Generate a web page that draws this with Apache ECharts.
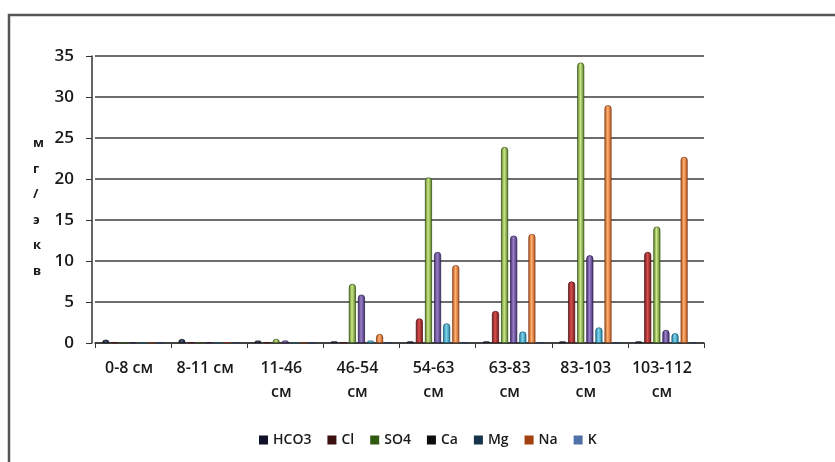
<!DOCTYPE html>
<html>
<head>
<meta charset="utf-8">
<script src="https://cdn.jsdelivr.net/npm/echarts@6/dist/echarts.min.js"></script>
<style>
html,body{margin:0;padding:0;background:#fff;}
#chart{width:835px;height:462px;}
</style>
</head>
<body>
<div id="chart"></div>
<script>
const categories = ['0-8 см', '8-11 см', '11-46\nсм', '46-54\nсм', '54-63\nсм', '63-83\nсм', '83-103\nсм', '103-112\nсм'];
const seriesNames = ['HCO3', 'Cl', 'SO4', 'Ca', 'Mg', 'Na', 'K'];
const HCO3 = [0.4, 0.5, 0.3, 0.2, 0.2, 0.2, 0.2, 0.2];
const Cl   = [0.1, 0.1, 0.1, 0.1, 3.0, 3.9, 7.5, 11.1];
const SO4  = [0.1, 0.1, 0.5, 7.2, 20.2, 23.9, 34.2, 14.2];
const Ca   = [0.1, 0.1, 0.3, 5.9, 11.1, 13.1, 10.7, 1.6];
const Mg   = [0.1, 0.1, 0.1, 0.3, 2.4, 1.4, 1.9, 1.2];
const Na   = [0.1, 0.1, 0.1, 1.1, 9.5, 13.3, 29.0, 22.7];
const K    = [0.1, 0.1, 0.1, 0.1, 0.1, 0.1, 0.1, 0.1];
const yTicks = [0, 5, 10, 15, 20, 25, 30, 35];
const yTitle = ['м', 'г', '/', 'э', 'к', 'в'];

const values = [HCO3, Cl, SO4, Ca, Mg, Na, K];
// bar cylinder colours [edge, centre, border]
const barColors = [
  ['#10162a', '#4a5878', '#0a0e1a'],
  ['#6e1414', '#d65050', '#4a0c0c'],
  ['#4f7a1c', '#cde68a', '#2e4a0e'],
  ['#3f2a6a', '#9a80c8', '#281a48'],
  ['#1e7a98', '#7ed4ee', '#125066'],
  ['#b0501a', '#ffb070', '#7a3410'],
  ['#35507e', '#8aa6d4', '#223456']
];
const legendColors = ['#0e1128', '#3a0f0f', '#2f5a10', '#0c0c0c', '#15344a', '#a3400f', '#5070a8'];

const chart = echarts.init(document.getElementById('chart'));
const series = seriesNames.map((n, i) => ({
  name: n,
  type: 'bar',
  data: values[i],
  barWidth: 7,
  barGap: '30%',
  itemStyle: {
    color: new echarts.graphic.LinearGradient(0, 0, 1, 0, [
      {offset: 0, color: barColors[i][0]},
      {offset: 0.45, color: barColors[i][1]},
      {offset: 1, color: barColors[i][0]}
    ]),
    borderColor: barColors[i][2],
    borderWidth: 0.7,
    borderRadius: [3, 3, 0, 0]
  }
}));

chart.setOption({
  animation: false,
  backgroundColor: '#fff',
  textStyle: {fontFamily: 'Open Sans'},
  grid: {left: 95, width: 609, top: 56, height: 287, containLabel: false},
  xAxis: {
    type: 'category',
    data: categories,
    axisLine: {show: true, lineStyle: {color: '#333', width: 1.5}},
    axisTick: {show: true, length: 5, lineStyle: {color: '#333'}},
    axisLabel: {color: '#1a1a1a', fontSize: 16, fontWeight: 600, lineHeight: 24, margin: 13, padding: [0, 8, 0, 0], interval: 0}
  },
  yAxis: {
    type: 'value',
    min: 0, max: 35, interval: 5,
    offset: 3,
    axisLine: {show: true, lineStyle: {color: '#333', width: 1.5}},
    axisTick: {show: true, length: 6, lineStyle: {color: '#333'}},
    axisLabel: {color: '#1a1a1a', fontSize: 17, fontWeight: 600, margin: 18,
      formatter: v => yTicks.includes(v) ? String(v) : ''},
    splitLine: {show: true, lineStyle: {color: '#3c3c3c', width: 1.6}}
  },
  legend: {
    bottom: 10,
    left: 254,
    itemWidth: 9, itemHeight: 9, itemGap: 16,
    icon: 'rect',
    textStyle: {color: '#1a1a1a', fontSize: 14, fontWeight: 600},
    data: seriesNames.map((n, i) => ({name: n, itemStyle: {color: legendColors[i], borderWidth: 0}}))
  },
  graphic: [
    {type: 'rect', shape: {x: 9, y: 15, width: 840, height: 460},
     style: {fill: 'none', stroke: '#555', lineWidth: 2.5}, silent: true},
    {type: 'text', left: 33, top: 131,
     style: {text: yTitle.join('\n'), fill: '#1a1a1a', font: 'bold 13px "Open Sans"', lineHeight: 25.5, align: 'center'}}
  ],
  series: series
});
</script>
</body>
</html>
